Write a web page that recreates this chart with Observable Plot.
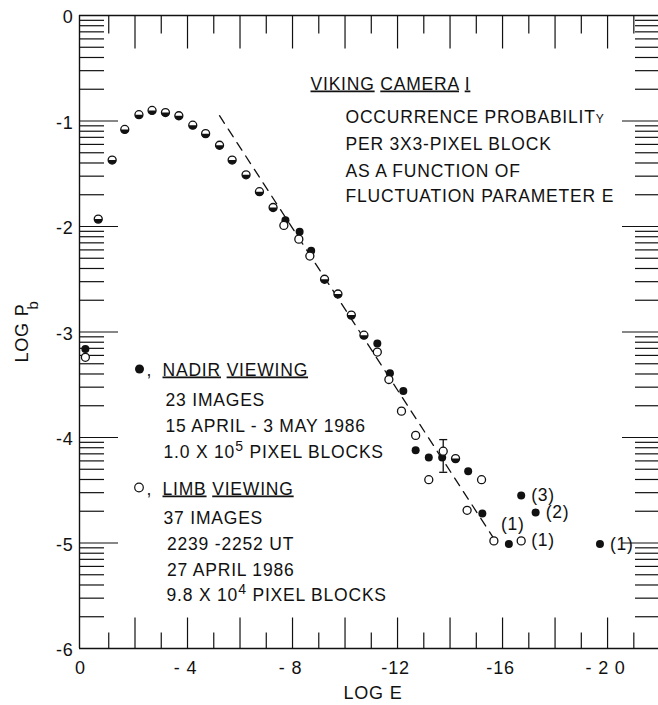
<!DOCTYPE html>
<html>
<head>
<meta charset="utf-8">
<script src="https://cdn.jsdelivr.net/npm/d3@7"></script>
<script src="https://cdn.jsdelivr.net/npm/@observablehq/plot@0.6"></script>
<style>
html, body { margin: 0; padding: 0; background: #fff; }
#chart svg { display: block; }
</style>
</head>
<body>
<div id="chart"></div>
<script>
// ---------- DATA ----------
// points where nadir and limb coincide (drawn half-filled)
const bothX = [-0.6, -1.13, -1.61, -2.15, -2.65, -3.16, -3.67, -4.2, -4.69, -5.22, -5.70, -6.23, -6.74, -7.26, -9.22, -9.73, -10.24, -10.72, -14.21];
const bothY = [-1.93, -1.37, -1.08, -0.94, -0.90, -0.92, -0.95, -1.04, -1.12, -1.23, -1.37, -1.51, -1.67, -1.82, -2.50, -2.64, -2.84, -3.03, -4.20];
// nadir viewing (filled)
const nadirX = [-0.11, -7.73, -8.27, -8.71, -11.23, -11.71, -12.22, -12.69, -13.19, -13.70, -14.69, -15.23, -16.24, -16.71, -17.26, -19.71];
const nadirY = [-3.16, -1.94, -2.05, -2.23, -3.11, -3.39, -3.56, -4.12, -4.19, -4.19, -4.32, -4.72, -5.01, -4.55, -4.71, -5.01];
// limb viewing (open)
const limbX = [-0.11, -7.67, -8.24, -8.66, -11.23, -11.67, -12.15, -12.69, -13.74, -13.19, -15.20, -14.65, -15.67, -16.71];
const limbY = [-3.24, -1.99, -2.12, -2.28, -3.19, -3.45, -3.75, -3.98, -4.13, -4.40, -4.40, -4.69, -4.98, -4.98];
// dashed reference line (end points)
const fitX = [-5.22, -15.70];
const fitY = [-0.95, -4.97];
// error bar
const errX = [-13.74];
const errLo = [-4.33];
const errHi = [-4.02];
// point count labels
const labelX = [-16.71, -17.26, -16.71, -19.71];
const labelY = [-4.55, -4.71, -4.98, -5.01];
const labelText = ["(3)", "(2)", "(1)", "(1)"];
const aboveX = [-15.67];
const aboveY = [-4.98];
const aboveText = ["(1)"];
// axis ticks & labels
const xTickValues = [0, -4, -8, -12, -16, -20];
const xTickLabels = ["0", "- 4", "- 8", "-12", "-16", "- 2 0"];
const yTickValues = [0, -1, -2, -3, -4, -5, -6];
const yTickLabels = ["0", "-1", "-2", "-3", "-4", "-5", "-6"];
const xTickLong = [-2, -4, -6, -8, -10, -12, -14, -16, -18, -20];
const xTickShort = [-1, -3, -5, -7, -9, -11, -13, -15, -17, -19, -21];
const yMajor = [-1, -2, -3, -4, -5];
const decades = [0, 1, 2, 3, 4, 5];
const mantissas = [2, 3, 4, 5, 6, 7, 8, 9];
// texts
const titleLines = ["VIKING CAMERA I", "OCCURRENCE PROBABILITY", "PER 3X3-PIXEL BLOCK", "AS A FUNCTION OF", "FLUCTUATION PARAMETER E"];
const nadirLines = ["NADIR VIEWING", "23 IMAGES", "15 APRIL - 3 MAY 1986", "1.0 X 10⁵ PIXEL BLOCKS"];
const limbLines = ["LIMB VIEWING", "37 IMAGES", "2239 -2252 UT", "27 APRIL 1986", "9.8 X 10⁴ PIXEL BLOCKS"];
const xAxisTitle = "LOG E";
const yAxisTitle = ["LOG P", "b"];

// ---------- LAYOUT ----------
const W = 658, H = 705;
const ML = 79, MR = 0, MT = 15, MB = 57;
const FW = W - ML - MR, FH = H - MT - MB;
const X_DOMAIN = [0.114, -21.94];
const Y_DOMAIN = [-6, 0];
const INK = "#111";
const FONT = "'Liberation Sans', Arial, Helvetica, sans-serif";
const titleLayout = {x: [310, 345, 345, 345, 345], y: [89, 122, 149, 176, 201]};
const nadirLayout = {x: [162, 165, 165, 163], y: [375, 405.5, 431.5, 457]};
const limbLayout = {x: [162, 163, 166.5, 166.5, 166], y: [494, 523, 549, 575, 600.5]};

// ---------- build tables from arrays ----------
const pts = (xs, ys) => xs.map((x, i) => ({x, y: ys[i]}));
const both = pts(bothX, bothY);
const nadir = pts(nadirX, nadirY);
const limb = pts(limbX, limbY);
const fit = pts(fitX, fitY);
const errs = errX.map((x, i) => ({x, lo: errLo[i], hi: errHi[i]}));
const pointLabels = labelX.map((x, i) => ({x, y: labelY[i], t: labelText[i]}));
const aboveLabels = aboveX.map((x, i) => ({x, y: aboveY[i], t: aboveText[i]}));
const xLabels = xTickValues.map((v, i) => ({v, t: xTickLabels[i]}));
const yLabels = yTickValues.map((v, i) => ({v, t: yTickLabels[i]}));
const yMinor = decades.flatMap(d => mantissas.map(k => -d - 1 + Math.log10(k)));
const xLongObjs = xTickLong.map(x => ({x}));
const xShortObjs = xTickShort.map(x => ({x}));

// shapes
const halfDisk = {draw(ctx, size) {
  const r = Math.sqrt(size / Math.PI);
  ctx.moveTo(r, 0); ctx.arc(0, 0, r, 0, Math.PI); ctx.closePath();
}};
const capSym = {draw(ctx) { ctx.moveTo(-4, 0); ctx.lineTo(4, 0); }};
// vertical tick glyph of a given pixel length (positive = downward)
const vTick = len => ({draw(ctx) { ctx.moveTo(0, 0); ctx.lineTo(0, len); }});

const yTop = Y_DOMAIN[1], yBottom = Y_DOMAIN[0];
const tickStyle = {stroke: INK, strokeWidth: 1.2};
const xTicks = (data, anchor, len) =>
  Plot.dot(data, {x: "x", frameAnchor: anchor, symbol: vTick(len), fill: "none", stroke: INK, strokeWidth: 1.2});
const leftTicks = (data, len) => Plot.ruleY(data, {y: d => d, insetRight: FW - len, ...tickStyle});
const rightTicks = (data, len) => Plot.ruleY(data, {y: d => d, insetLeft: FW - len, ...tickStyle});

const note = (text, px, py, size = 17.5) =>
  Plot.text([text], {text: d => d, frameAnchor: "top-left", dx: px - ML, dy: py - MT,
    textAnchor: "start", lineAnchor: "bottom", fontSize: size, fill: INK});

const marks = [
  // frame lines
  Plot.ruleX([X_DOMAIN[0]], {stroke: INK, strokeWidth: 1.4}),
  Plot.ruleY([yTop, yBottom], {stroke: INK, strokeWidth: 1.4}),
  // ticks
  xTicks(xLongObjs, "top", 33),
  xTicks(xShortObjs, "top", 18),
  xTicks(xLongObjs, "bottom", -31),
  xTicks(xShortObjs, "bottom", -16),
  leftTicks(yMajor, 39),
  leftTicks(yMinor, 25),
  rightTicks(yMajor, 36),
  rightTicks(yMinor, 23),
  // tick labels
  Plot.text(yLabels, {y: "v", text: "t", frameAnchor: "left", dx: -6, dy: 2, textAnchor: "end", lineAnchor: "middle", fontSize: 18, fill: INK}),
  Plot.text(xLabels, {x: "v", text: "t", frameAnchor: "bottom", dx: -2, dy: 20, textAnchor: "middle", lineAnchor: "middle", fontSize: 18, fill: INK}),
  // axis titles
  Plot.text([xAxisTitle], {text: d => d, frameAnchor: "bottom", dx: 4, dy: 45, lineAnchor: "middle", fontSize: 18, fill: INK}),
  Plot.text([yAxisTitle[0]], {text: d => d, frameAnchor: "left", dx: 22 - ML, dy: -28.5, rotate: -90, textAnchor: "end", lineAnchor: "middle", fontSize: 18, fill: INK}),
  Plot.text([yAxisTitle[1]], {text: d => d, frameAnchor: "left", dx: 33 - ML, dy: -22.5, rotate: -90, textAnchor: "start", lineAnchor: "middle", fontSize: 15, fill: INK}),
  // dashed line
  Plot.line(fit, {x: "x", y: "y", stroke: INK, strokeWidth: 1.3, strokeDasharray: "9,7"}),
  // error bar
  Plot.ruleX(errs, {x: "x", y1: "lo", y2: "hi", stroke: INK, strokeWidth: 1.3}),
  Plot.dot(errs, {x: "x", y: "lo", symbol: capSym, fill: "none", stroke: INK, strokeWidth: 1.3}),
  Plot.dot(errs, {x: "x", y: "hi", symbol: capSym, fill: "none", stroke: INK, strokeWidth: 1.3}),
  // data points
  Plot.dot(both, {x: "x", y: "y", r: 4, fill: "white", stroke: INK, strokeWidth: 1.3}),
  Plot.dot(both, {x: "x", y: "y", r: 4, symbol: halfDisk, fill: INK}),
  Plot.dot(nadir, {x: "x", y: "y", r: 4, fill: INK}),
  Plot.dot(limb, {x: "x", y: "y", r: 4, fill: "white", stroke: INK, strokeWidth: 1.3}),
  // point labels
  Plot.text(pointLabels, {x: "x", y: "y", text: "t", dx: 10, textAnchor: "start", lineAnchor: "middle", fontSize: 17.5, fill: INK}),
  Plot.text(aboveLabels, {x: "x", y: "y", text: "t", dx: 7, dy: -16, textAnchor: "start", lineAnchor: "middle", fontSize: 17.5, fill: INK}),
  // legend symbols
  Plot.dot([0], {frameAnchor: "top-left", dx: 139 - ML, dy: 368.5 - MT, r: 4.5, fill: INK}),
  Plot.dot([0], {frameAnchor: "top-left", dx: 138.5 - ML, dy: 487 - MT, r: 4.3, fill: "white", stroke: INK, strokeWidth: 1.2}),
  note(",", 146, 375),
  note(",", 146, 494),
  // text blocks
  ...titleLines.map((t, i) => note(t, titleLayout.x[i], titleLayout.y[i])),
  ...nadirLines.map((t, i) => note(t, nadirLayout.x[i], nadirLayout.y[i])),
  ...limbLines.map((t, i) => note(t, limbLayout.x[i], limbLayout.y[i]))
];

const chart = Plot.plot({
  width: W, height: H,
  marginLeft: ML, marginRight: MR, marginTop: MT, marginBottom: MB,
  x: {domain: X_DOMAIN, axis: null},
  y: {domain: Y_DOMAIN, axis: null},
  style: {fontFamily: FONT, letterSpacing: "0.8px", color: INK, background: "white"},
  marks
});

// ---------- rich text: underlines, superscripts ----------
const UNDERLINE = {
  "VIKING CAMERA I": ["VIKING", "CAMERA", "I"],
  "NADIR VIEWING": ["NADIR", "VIEWING"],
  "LIMB VIEWING": ["LIMB", "VIEWING"]
};
const SUP = {"⁴": "4", "⁵": "5"};
const NS = "http://www.w3.org/2000/svg";
chart.querySelectorAll("text").forEach(el => {
  if (el.querySelector("tspan")) return;
  const s = el.textContent;
  const ul = UNDERLINE[s] || [];
  if (!ul.length && !/[⁴⁵]/.test(s) && !s.includes("PROBABILITY")) return;
  el.textContent = "";
  let back = 0;
  const add = (str, attrs = {}) => {
    if (!str) return;
    const t = document.createElementNS(NS, "tspan");
    for (const k in attrs) t.setAttribute(k, attrs[k]);
    if (back && attrs.dy === undefined) { t.setAttribute("dy", back); back = 0; }
    t.textContent = str;
    el.appendChild(t);
  };
  s.split(/( )/).forEach(tok => {
    if (ul.includes(tok)) add(tok, {"text-decoration": "underline"});
    else if (tok === "PROBABILITY") { add("PROBABILIT"); add("Y", {"font-size": 12}); }
    else if (/[⁴⁵]/.test(tok)) {
      const m = tok.match(/^(.*?)([⁴⁵])(.*)$/);
      add(m[1]);
      add(SUP[m[2]], {dy: -7, "font-size": 14});
      back = 7;
      add(m[3]);
    } else add(tok);
  });
});

document.getElementById("chart").appendChild(chart);
</script>
</body>
</html>
